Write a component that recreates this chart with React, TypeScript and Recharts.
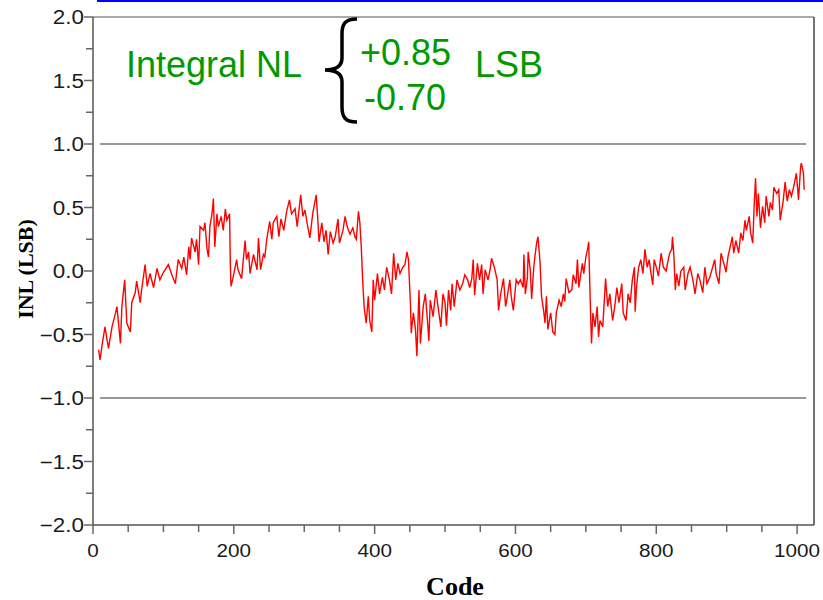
import React from "react";
import { LineChart, Line, XAxis, YAxis, ReferenceLine } from "recharts";

// DAC code vs integral non-linearity (LSB)
const codes = [
  8, 10, 13, 17, 22, 27, 32, 34, 39, 41,
  45, 48, 53, 55, 60, 62, 67, 69, 74, 77,
  81, 86, 91, 95, 100, 107, 112, 117, 121, 126,
  129, 133, 136, 138, 140, 145, 147, 150, 152, 157,
  159, 162, 164, 166, 169, 171, 173, 176, 178, 182,
  185, 188, 190, 194, 195, 196, 199, 204, 206, 211,
  216, 218, 221, 223, 228, 233, 235, 238, 242, 244,
  247, 251, 254, 256, 261, 264, 267, 271, 275, 279,
  282, 287, 290, 295, 298, 301, 304, 308, 312, 317,
  319, 321, 325, 328, 331, 334, 337, 341, 344, 348,
  350, 355, 358, 361, 365, 369, 372, 374, 377, 379,
  381, 383, 385, 388, 391, 393, 396, 398, 400, 404,
  407, 411, 414, 417, 421, 424, 427, 430, 433, 436,
  440, 443, 446, 448, 451, 452, 455, 458, 460, 463,
  465, 469, 472, 475, 477, 479, 483, 487, 490, 494,
  497, 500, 502, 505, 508, 510, 513, 517, 521, 525,
  528, 532, 535, 538, 540, 542, 546, 549, 552, 554,
  557, 561, 564, 566, 570, 574, 576, 579, 583, 586,
  589, 592, 594, 597, 601, 604, 607, 611, 612, 614,
  617, 618, 621, 623, 626, 628, 630, 632, 635, 637,
  640, 642, 644, 646, 650, 653, 656, 658, 662, 665,
  668, 670, 672, 676, 680, 682, 686, 688, 690, 695,
  697, 700, 703, 704, 706, 708, 710, 713, 716, 718,
  720, 724, 728, 731, 734, 738, 741, 744, 747, 751,
  753, 757, 760, 763, 766, 769, 770, 772, 775, 778,
  781, 784, 787, 790, 792, 795, 797, 800, 803, 807,
  810, 814, 817, 819, 822, 823, 825, 827, 829, 832,
  835, 839, 841, 845, 848, 852, 855, 859, 862, 866,
  869, 872, 876, 880, 883, 885, 889, 892, 896, 899,
  902, 905, 908, 910, 913, 917, 920, 923, 926, 928,
  932, 934, 937, 939, 941, 943, 945, 948, 951, 954,
  956, 960, 962, 965, 967, 971, 974, 976, 980, 983,
  986, 989, 992, 995, 999, 1002, 1005, 1006, 1009, 1010,
];

const inl = [
  -0.62, -0.7, -0.58, -0.44, -0.61, -0.44, -0.33, -0.28, -0.57, -0.28,
  -0.07, -0.41, -0.48, -0.25, -0.17, -0.08, -0.25, -0.15, 0.05, -0.12,
  -0.02, -0.13, 0.02, -0.07, -0.01, 0.05, -0.03, -0.1, 0.09, 0.02,
  0.11, -0.03, 0.19, 0.09, 0.26, 0.15, 0.25, 0.05, 0.35, 0.32,
  0.38, 0.17, 0.11, 0.35, 0.45, 0.57, 0.19, 0.45, 0.35, 0.43,
  0.32, 0.49, 0.4, 0.45, 0.06, -0.12, -0.05, 0.09, 0.01, -0.06,
  0.24, 0.09, 0.15, -0.02, 0.13, 0.01, 0.26, 0.01, 0.13, 0.11,
  0.26, 0.39, 0.25, 0.38, 0.43, 0.27, 0.41, 0.32, 0.47, 0.56,
  0.45, 0.49, 0.35, 0.6, 0.43, 0.48, 0.38, 0.26, 0.45, 0.6,
  0.43, 0.23, 0.38, 0.23, 0.32, 0.13, 0.31, 0.22, 0.27, 0.41,
  0.22, 0.32, 0.43, 0.35, 0.29, 0.34, 0.27, 0.25, 0.47, 0.38,
  0.19, -0.07, -0.28, -0.41, -0.2, -0.39, -0.48, -0.07, -0.23, -0.02,
  -0.18, -0.05, -0.15, 0.03, -0.07, -0.18, 0.14, -0.07, 0.06, -0.02,
  0.03, 0.05, 0.15, 0.09, -0.28, -0.49, -0.33, -0.46, -0.67, -0.15,
  -0.57, -0.28, -0.18, -0.39, -0.55, -0.23, -0.36, -0.15, -0.28, -0.44,
  -0.18, -0.25, -0.43, -0.15, -0.31, -0.1, -0.28, -0.07, -0.15, -0.1,
  -0.03, -0.07, -0.13, -0.06, 0.09, -0.19, 0.06, -0.07, 0.05, -0.18,
  0.01, -0.07, 0.01, 0.1, 0.03, -0.07, -0.31, -0.18, -0.06, -0.28,
  -0.18, -0.07, -0.2, -0.31, -0.07, -0.1, -0.07, -0.13, 0.13, -0.18,
  -0.05, 0.15, 0.01, -0.22, 0.03, 0.13, 0.22, 0.27, 0.06, -0.2,
  -0.31, -0.41, -0.2, -0.46, -0.33, -0.48, -0.5, -0.33, -0.23, -0.28,
  -0.18, -0.24, -0.06, -0.17, -0.15, -0.03, -0.1, 0.09, -0.13, 0.06,
  -0.02, 0.11, 0.19, 0.23, -0.2, -0.57, -0.33, -0.44, -0.28, -0.52,
  -0.39, -0.44, -0.06, -0.28, -0.18, -0.39, -0.28, -0.13, -0.25, -0.1,
  -0.33, -0.39, -0.18, -0.25, -0.07, 0.03, -0.32, -0.12, 0.03, 0.09,
  -0.02, 0.17, 0.03, 0.09, 0.0, -0.11, 0.09, 0.03, -0.04, 0.14,
  0.03, 0.0, 0.09, 0.14, 0.17, 0.27, 0.12, -0.15, -0.02, -0.12,
  0.0, 0.03, -0.15, -0.02, 0.03, -0.07, -0.18, -0.02, -0.07, -0.17,
  0.03, -0.1, -0.05, 0.03, 0.09, -0.02, -0.1, 0.14, 0.06, -0.01,
  0.12, 0.19, 0.27, 0.14, 0.24, 0.14, 0.3, 0.24, 0.4, 0.32,
  0.43, 0.3, 0.22, 0.51, 0.73, 0.43, 0.61, 0.34, 0.51, 0.38,
  0.59, 0.43, 0.54, 0.48, 0.66, 0.61, 0.64, 0.4, 0.54, 0.7,
  0.55, 0.64, 0.59, 0.66, 0.77, 0.56, 0.82, 0.85, 0.77, 0.64,
];

const xTicks = [
  0, 50, 100, 150, 200, 250, 300, 350, 400, 450, 500,
  550, 600, 650, 700, 750, 800, 850, 900, 950, 1000,
];
const yTicks = [
  -2, -1.75, -1.5, -1.25, -1, -0.75, -0.5, -0.25, 0,
  0.25, 0.5, 0.75, 1, 1.25, 1.5, 1.75, 2,
];
const limitLines = [1, -1];
const limitSpan = [10, 1013];

const data = codes.map((c, i) => ({ code: c, inl: inl[i] }));

const SANS = "'Liberation Sans', Arial, Helvetica, sans-serif";
const SERIF = "'Liberation Serif', 'Times New Roman', serif";
const GREEN = "#009a00";

function XTick(props: any) {
  const { x, y, payload } = props;
  const major = payload.value % 200 === 0;
  return (
    <g>
      <line x1={x} x2={x} y1={y} y2={y + (major ? 9 : 7)} stroke="#666" strokeWidth={1.5} />
      {major && (
        <text
          transform={`translate(${x},${y + 32}) scale(1.15,1)`}
          textAnchor="middle"
          fontSize={18}
          fontFamily={SANS}
          fill="#1a1a1a"
        >
          {payload.value}
        </text>
      )}
    </g>
  );
}

function YTick(props: any) {
  const { x, y, payload } = props;
  const v = payload.value;
  const major = Math.abs(v * 2 - Math.round(v * 2)) < 1e-6;
  const label = v.toFixed(1).replace("-", "\u2212");
  return (
    <g>
      <line x1={x - (major ? 9 : 7)} x2={x} y1={y} y2={y} stroke="#666" strokeWidth={1.5} />
      {major && (
        <text
          transform={`translate(${x - 9},${y + 7}) scale(1.15,1)`}
          textAnchor="end"
          fontSize={19.5}
          fontFamily={SANS}
          fill="#1a1a1a"
        >
          {label}
        </text>
      )}
    </g>
  );
}

export default function App() {
  return (
    <div style={{ position: "absolute", left: 0, top: 0, width: 823, height: 600, background: "#fff" }}>
      <LineChart
        width={823}
        height={600}
        data={data}
        margin={{ top: 16, right: 8, bottom: 0, left: 0 }}
      >
        <XAxis
          dataKey="code"
          type="number"
          domain={[0, 1024]}
          ticks={xTicks}
          interval={0}
          height={75}
          tickSize={0}
          tickMargin={0}
          tickLine={false}
          tick={<XTick />}
          stroke="#555"
          strokeWidth={1.5}
          allowDataOverflow
        />
        <XAxis
          xAxisId="top"
          orientation="top"
          type="number"
          domain={[0, 1024]}
          height={1}
          tick={false}
          tickLine={false}
          stroke="#aaa"
          strokeWidth={2}
        />
        <YAxis
          type="number"
          domain={[-2, 2]}
          ticks={yTicks}
          interval={0}
          width={93}
          tickSize={0}
          tickMargin={0}
          tickLine={false}
          tick={<YTick />}
          stroke="#555"
          strokeWidth={1.5}
          allowDataOverflow
        />
        <YAxis
          yAxisId="right"
          orientation="right"
          type="number"
          domain={[-2, 2]}
          width={1}
          tick={false}
          tickLine={false}
          stroke="#444"
          strokeWidth={1.5}
        />
        {limitLines.map((v) => (
          <ReferenceLine
            key={v}
            segment={[
              { x: limitSpan[0], y: v },
              { x: limitSpan[1], y: v },
            ]}
            stroke="#999"
            strokeWidth={2}
          />
        ))}
        <Line
          type="linear"
          dataKey="inl"
          stroke="#ff0000"
          strokeWidth={1.4}
          dot={false}
          isAnimationActive={false}
        />
      </LineChart>
      <svg
        width={823}
        height={600}
        style={{ position: "absolute", left: 0, top: 0, pointerEvents: "none" }}
      >
        <rect x={97} y={0} width={726} height={2} fill="#0000ff" />
        <text x={126} y={77} fontSize={36} fontFamily={SANS} fill={GREEN}>
          Integral NL
        </text>
        <path
          d="M 357 19 C 345 19, 342 24, 342 34 L 342 58 C 342 66, 336 70, 325 70 C 336 70, 342 74, 342 82 L 342 107 C 342 117, 345 122, 357 122"
          fill="none"
          stroke="#000"
          strokeWidth={3.5}
        />
        <text x={360} y={65} fontSize={36} fontFamily={SANS} fill={GREEN}>
          +0.85
        </text>
        <text x={364} y={110} fontSize={36} fontFamily={SANS} fill={GREEN}>
          -0.70
        </text>
        <text x={475} y={77} fontSize={36} fontFamily={SANS} fill={GREEN}>
          LSB
        </text>
        <text
          x={455}
          y={595}
          textAnchor="middle"
          fontSize={26}
          fontWeight="bold"
          fontFamily={SERIF}
          fill="#000"
        >
          Code
        </text>
        <text
          transform="translate(33,269) rotate(-90)"
          textAnchor="middle"
          fontSize={22}
          fontWeight="bold"
          fontFamily={SERIF}
          fill="#000"
        >
          INL (LSB)
        </text>
      </svg>
    </div>
  );
}
